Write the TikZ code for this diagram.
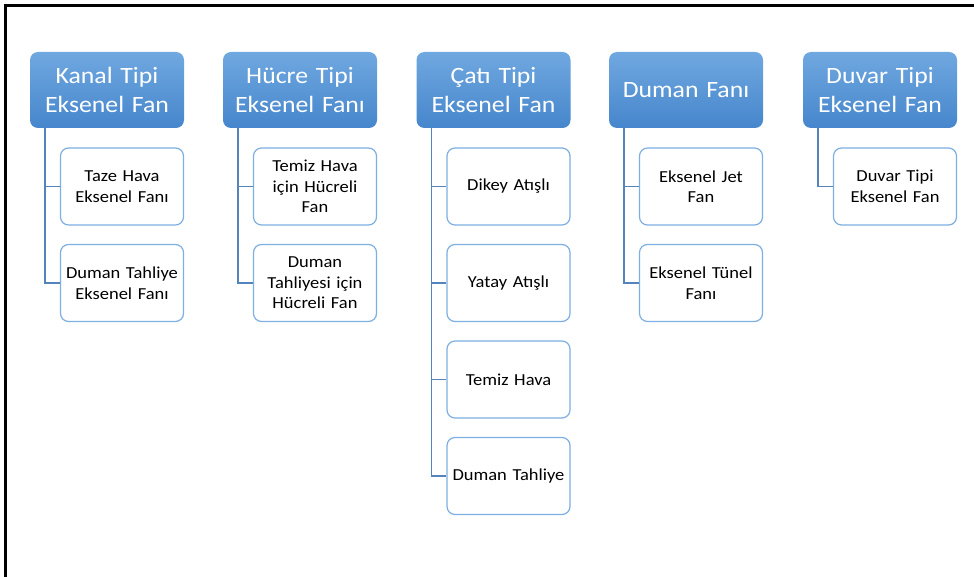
\documentclass[tikz,border=0pt]{standalone}
\usepackage{fontspec}
\setmainfont{Carlito}[FakeStretch=1.1]
\usepackage{xcolor}

\definecolor{headtop}{RGB}{112,168,224}
\definecolor{headbot}{RGB}{70,134,204}
\definecolor{itemline}{RGB}{125,175,225}
\definecolor{linkline}{RGB}{84,132,188}

\tikzset{
  head/.style={shade,top color=headtop,bottom color=headbot,rounded corners=8pt,
    minimum width=154pt,minimum height=76pt,text width=150pt,align=center,
    inner sep=0pt,text=white,font=\fontsize{23.4}{28.5}\selectfont},
  item/.style={draw=itemline,line width=1.2pt,fill=white,rounded corners=8pt,
    minimum width=123pt,minimum height=77pt,text width=120pt,align=center,
    inner sep=0pt,font=\fontsize{16.8}{20.5}\selectfont},
  link/.style={draw=linkline,line width=1.4pt}
}

\begin{document}
\begin{tikzpicture}[x=1pt,y=-1pt]
        \useasboundingbox (0,0) rectangle (974,577);
        \draw[line width=2.5pt] (5.3,577) -- (5.3,5.3) -- (974,5.3);

        % top row
        \node[head] (kanal) at (107,90) {Kanal Tipi\\Eksenel Fan};
        \node[head] (hucre) at (300,90) {Hücre Tipi\\Eksenel Fanı};
        \node[head] (cati)  at (493.5,90) {Çatı Tipi\\Eksenel Fan};
        \node[head] (duman) at (686,90) {Duman Fanı};
        \node[head] (duvar) at (880,90) {Duvar Tipi\\Eksenel Fan};

        % sub items
        \node[item] (kanal1) at (122,186.5) {Taze Hava\\Eksenel Fanı};
        \node[item] (kanal2) at (122,283) {Duman Tahliye\\Eksenel Fanı};
        \node[item] (hucre1) at (315,186.5) {Temiz Hava\\için Hücreli\\Fan};
        \node[item] (hucre2) at (315,283) {Duman\\Tahliyesi için\\Hücreli Fan};
        \node[item] (cati1) at (508.5,186.5) {Dikey Atışlı};
        \node[item] (cati2) at (508.5,283) {Yatay Atışlı};
        \node[item] (cati3) at (508.5,379.5) {Temiz Hava};
        \node[item] (cati4) at (508.5,476) {Duman Tahliye};
        \node[item] (duman1) at (701,186.5) {Eksenel Jet\\Fan};
        \node[item] (duman2) at (701,283) {Eksenel Tünel\\Fanı};
        \node[item] (duvar1) at (895,186.5) {Duvar Tipi\\Eksenel Fan};

        \foreach \p/\c in {kanal/kanal1,kanal/kanal2,hucre/hucre1,hucre/hucre2,
            cati/cati1,cati/cati2,cati/cati3,cati/cati4,duman/duman1,duman/duman2,duvar/duvar1}{
            \draw[link] (\p.south west) ++(15,0) |- (\c.west);
        }
    \end{tikzpicture}
\end{document}
